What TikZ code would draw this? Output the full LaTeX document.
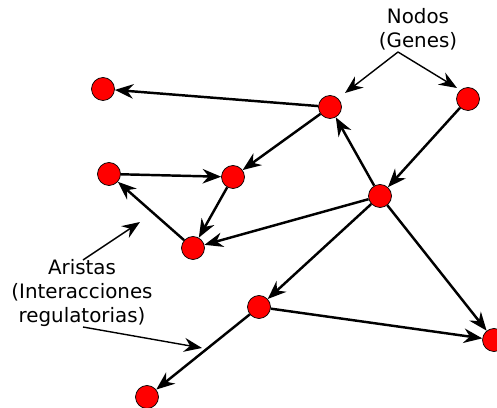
\documentclass[tikz,border=0pt]{standalone}
\usepackage{fontspec}
\setmainfont{DejaVu Sans}
\usetikzlibrary{arrows.meta}

\begin{document}
\begin{tikzpicture}[x=0.02cm,y=-0.02cm]
   \useasboundingbox (0,0) rectangle (497,408);
   \begin{scope}[every node/.style={circle,draw=black,fill=red,minimum size=0.46cm,inner sep=0pt}]
    \node (g1) at (103,89) {};
    \node (g2) at (330,107) {};
    \node (g3) at (468,99) {};
    \node (g4) at (109,174) {};
    \node (g5) at (233,177) {};
    \node (g6) at (380,196) {};
    \node (g7) at (193,248) {};
    \node (g8) at (259,307) {};
    \node (g9) at (494,340) {};
    \node (g10) at (147,397) {};
   \end{scope}
   \begin{scope}[every edge/.style={draw=black,line width=1.4pt,-{Stealth[length=0.37cm,width=0.29cm,inset=0.12cm]}}]
    \draw  (g2) edge (g1);
    \draw  (g3) edge (g6);
    \draw  (g6) edge (g2);
    \draw  (g2) edge (g5);
    \draw  (g4) edge (g5);
    \draw  (g5) edge (g7);
    \draw  (g7) edge (g4);
    \draw  (g6) edge (g7);
    \draw  (g6) edge (g8);
    \draw  (g6) edge (g9);
    \draw  (g8) edge (g9);
    \draw  (g8) edge (g10);
   \end{scope}
   \begin{scope}[every node/.style={align=center,font=\fontsize{11.3}{13.5}\selectfont}]
    \node (nodos) at (418,29) {Nodos\\(Genes)};
    \node (aristas) at (82,293) {Aristas\\(Interacciones\\regulatorias)};
   \end{scope}
   \coordinate (n0) at (398,52);
   \coordinate (n1) at (345,93);
   \coordinate (n2) at (457,88);
   \coordinate (a0) at (83,260);
   \coordinate (a1) at (140,222);
   \coordinate (a2) at (83,327);
   \coordinate (a3) at (202,348);
   \begin{scope}[every edge/.style={draw=black,line width=0.8pt,-{Stealth[length=0.36cm,width=0.28cm,inset=0.12cm]}}]
    \draw  (n0) edge (n1);
    \draw  (n0) edge (n2);
    \draw  (a0) edge (a1);
    \draw  (a2) edge (a3);
   \end{scope}
\end{tikzpicture}
\end{document}
